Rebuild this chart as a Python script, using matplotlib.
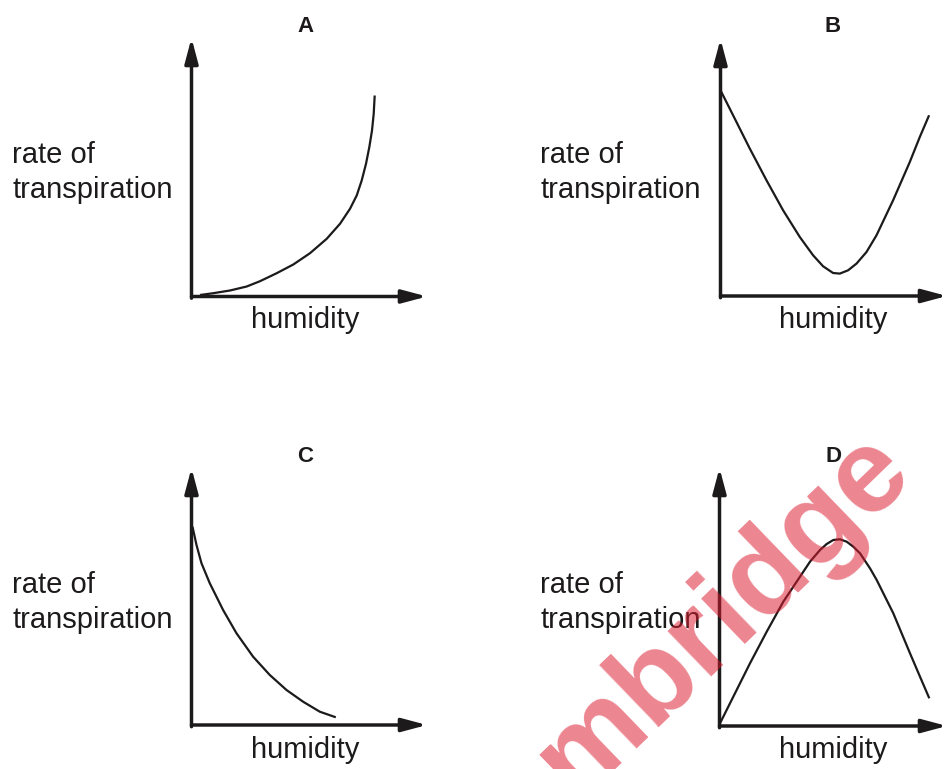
import matplotlib
matplotlib.use("Agg")
import matplotlib.pyplot as plt

plt.rcParams["font.family"] = ["Liberation Sans", "DejaVu Sans"]

W, H = 947, 769
INK = "#1c1a1b"

# curve readings, in pixel-ish units measured from each panel's origin
humidity_a = [8.5, 21.8, 38.5, 55.2, 68.5, 85.2, 101.8, 118.5, 135.2, 148.5, 158.5,
              165.2, 170.2, 174.5, 177.8, 180.5, 182.2, 183.2]
rate_a = [1.5, 3.3, 6, 10, 15.3, 23.3, 32, 43.3, 57.7, 72.7, 87.7, 101, 116, 132.7,
          149.3, 166, 182.7, 201]

humidity_b = [0, 12.6, 29.3, 46, 62.6, 79.3, 92.6, 102.6, 112.6, 119.3, 127.6, 136,
              146, 156, 172.6, 189.3, 199.3, 208.6]
rate_b = [205.7, 180.7, 147.4, 115.7, 85.7, 59, 40.7, 29.7, 23, 22.4, 25.7, 32.4, 44,
          60.7, 95.7, 134, 159, 180.7]

humidity_c = [1, 5, 10, 18.3, 31.6, 45, 61.6, 78.3, 95, 111.6, 128.3, 144.3]
rate_c = [198.3, 180, 161.7, 141.7, 115, 91.7, 68.3, 50, 35, 23.3, 13.3, 7.7]

humidity_d = [0.5, 13.8, 30.5, 47.2, 63.8, 80.5, 90.5, 100.5, 107.2, 113.8, 120.5,
              127.2, 133.8, 140.5, 150.5, 157.2, 173.8, 190.5, 200.5, 209.8]
rate_d = [2.7, 29.3, 62.7, 94.3, 124.3, 149.3, 164.3, 176, 182, 186, 186.7, 184.3,
          179.3, 172.7, 157.7, 146, 112.7, 72.7, 49.3, 27.7]

panel_names = ["A", "B", "C", "D"]
ylabel_lines = ["rate of", "transpiration"]
xlabel = "humidity"
watermark = "mbridge"

# panel frames in pixels: origin x, origin y, arrow tip x, arrow tip y
frames = [
    (191.5, 296.5, 427, 38),
    (720.5, 296, 947, 39),
    (191.5, 725, 427, 468),
    (719.5, 726, 947, 468),
]
curves = [
    (humidity_a, rate_a),
    (humidity_b, rate_b),
    (humidity_c, rate_c),
    (humidity_d, rate_d),
]
label_x = [12.5, 540, 12.5, 540]
centre_x = [305, 833, 305, 833]
row_base = [0, 0, 430, 430]


def fx(px):
    return px / W


def fy(py):
    return 1 - py / H


fig = plt.figure(figsize=(W / 100, H / 100), dpi=100)
fig.patch.set_facecolor("white")

for i in range(4):
    ox, oy, tx, ty = frames[i]
    ax = fig.add_axes([fx(ox), fy(oy), (tx - ox) / W, (oy - ty) / H])
    ax.set_xlim(0, tx - ox)
    ax.set_ylim(0, oy - ty)
    ax.axis("off")
    ax.patch.set_visible(False)

    hx, rt = curves[i]
    ax.plot(hx, rt, color=INK, lw=1.6, solid_capstyle="butt",
            solid_joinstyle="round", clip_on=False)

    arrow = dict(arrowstyle="-|>,head_length=0.75,head_width=0.2", lw=2.5,
                 color=INK, shrinkA=0, shrinkB=0, mutation_scale=20)
    ax.annotate("", xy=(tx - ox, 0), xytext=(0, 0), arrowprops=arrow,
                annotation_clip=False)
    ax.annotate("", xy=(0, oy - ty), xytext=(0, -1.7), arrowprops=arrow,
                annotation_clip=False)

    dy = row_base[i]
    fig.text(fx(centre_x[i]), fy(32 + dy), panel_names[i], ha="center",
             va="baseline", fontsize=16, fontweight="bold", color=INK)
    fig.text(fx(label_x[i]), fy(163 + dy), ylabel_lines[0], ha="left",
             va="baseline", fontsize=21, color=INK)
    fig.text(fx(label_x[i]), fy(198 + dy), ylabel_lines[1], ha="left",
             va="baseline", fontsize=21, color=INK)
    fig.text(fx(centre_x[i]), fy(328 + dy), xlabel, ha="center",
             va="baseline", fontsize=21, color=INK)

# translucent stamp lying over the lower right panel
fig.text(fx(724), fy(614), watermark, rotation=44, rotation_mode="anchor",
         ha="center", va="center", fontsize=86, fontweight="bold",
         color="#dc1a2e", alpha=0.53, zorder=10)

fig.savefig("out.png", dpi=100)
